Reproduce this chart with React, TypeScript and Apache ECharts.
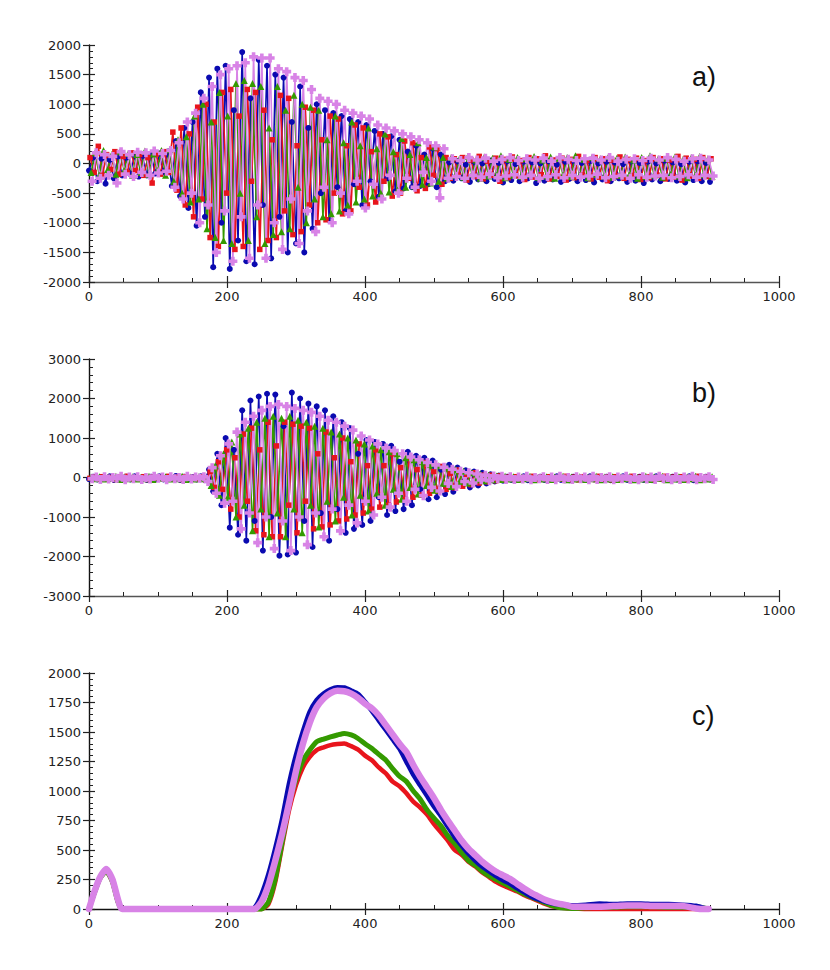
import React, { useEffect, useRef } from "react";
import * as echarts from "echarts";

// ---------- Panel a) samples, x = i * STEP_AB (+ small per-series shift) ----------
const STEP_AB = 6;

const aBlue = [
  -120, 100, -300, 80, -340, 60, -250, 120, -200, 100,
  -180, 140, -220, 130, -200, 150, -170, 170, -150, 200,
  -380, 380, -550, 600, -750, 700, -1050, 1200, -900, 1450, -1750,
  1600, -1000, 1650, -1780, 900, -1300, 1880, -1650, 1100, -1700,
  1750, -700, 1650, -1600, 1500, -900, 1450, -1500, 700, -1350,
  1300, -1500, 600, -1100, 1000, -500, 900, -950, 850, -400,
  800, -800, 750, -350, 700, -700, 650, -300, 550, -560,
  500, -250, 460, -470, 400, -420, 200, -400, 300, -380,
  150, -350, 250, -400, 150, -300,
  20, -290, 40, -250, -20, -310, 30, -270, 0, -300,
  50, -260, 10, -320, 40, -280, -10, -300, 30, -250,
  20, -330, 0, -290, 40, -270, -20, -310, 30, -260,
  50, -300, 10, -280, 40, -320, 0, -270, 30, -300,
  20, -250, -10, -310, 40, -290, 10, -330, 30, -270,
  0, -300, 50, -260, 20, -290, -10, -320, 30, -280,
  40, -300, 10, -310,
];

const aRed = [
  100, -150, 290, -200, 150, -100, 200, -180, 120, -150,
  180, -120, 150, -200, 100, -330, 160, -180, 200, -150,
  530, -450, 600, -700, 500, -900, 950, -600, 1000, -1250, 700,
  -1400, 1200, -500, 1250, -1450, 800, -1400, 1250, -300, 1200,
  -1450, 900, -1300, 400, -1250, 1150, -800, 1100, -1200, 300,
  -1150, 950, -700, 900, -1000, 400, -950, 800, -500, 750,
  -850, 300, -800, 650, -400, 600, -700, 200, -650, 500,
  -300, 450, -550, 150, -500, 380, -250, 350, -460, 100,
  -420, 280, -200, 250, -350, 100,
  -250, 80, -200, 100, -280, 60, -220, 120, -260, 40,
  -200, 90, -300, 70, -240, 110, -210, 50, -270, 100,
  -230, 80, -190, 130, -260, 60, -220, 90, -280, 70,
  -240, 120, -200, 50, -260, 100, -230, 80, -290, 60,
  -210, 110, -250, 70, -220, 90, -270, 50, -240, 100,
  -200, 80, -260, 60, -230, 120, -280, 90, -210, 70,
  -250, 100, -220, 80,
];

const aGreen = [
  -150, 180, -200, 220, -100, 150, -180, 200, -120, 170,
  -200, 150, -150, 210, -180, 160, -120, 220, -200, 230,
  -300, 400, -500, 450, -650, 800, -600, 1000, -1100, 700, -1250,
  1200, -1300, 800, -1350, 1350, -500, 1400, -1300, 1350, -900,
  1300, -1350, 600, -1200, 1300, -1150, 900, -1100, 1150, -400,
  1000, -1000, 950, -600, 900, -900, 400, -850, 800, -800,
  350, -700, 700, -650, 300, -600, 600, -550, 250, -500,
  500, -480, 200, -450, 420, -400, 150, -380, 350, -350,
  100, -330, 280, -300, 100, -250,
  100, -200, 80, -230, 120, -180, 60, -250, 110, -210,
  90, -190, 130, -240, 70, -200, 100, -220, 80, -180,
  120, -230, 60, -210, 110, -250, 90, -190, 100, -220,
  130, -200, 70, -240, 100, -180, 80, -210, 120, -230,
  90, -200, 110, -190, 60, -250, 100, -220, 130, -200,
  80, -230, 90, -180, 110, -210, 70, -240, 100, -200,
  120, -190, 80, -220,
];

const aPink = [
  -300, 180, -250, 150, -200, 120, -330, 200, -180, 150,
  -220, 190, -150, 180, -200, 210, -160, 170, -130, 220,
  -400, 350, -600, 700, -500, 850, -1000, 1100, -700, 1300, -1500,
  1500, -800, 1600, -1650, 1650, -900, 1700, -1600, 1800, -700,
  1780, -1600, 1780, -1000, 1600, -1450, 1550, -600, 1450, -1350,
  1400, -800, 1250, -1150, 1100, -400, 1050, -1000, 1000, -500,
  900, -850, 850, -300, 800, -750, 750, -350, 650, -600,
  600, -200, 550, -500, 500, -250, 450, -400, 400, -150,
  350, -300, 300, -580, 250, -250,
  80, -220, 50, -250, 100, -200, 60, -230, 90, -180,
  40, -240, 70, -210, 100, -190, 50, -230, 80, -200,
  60, -250, 90, -220, 40, -190, 100, -240, 70, -200,
  50, -230, 80, -210, 90, -180, 60, -240, 100, -220,
  40, -200, 70, -250, 80, -190, 50, -230, 90, -210,
  60, -200, 100, -240, 70, -220, 40, -190, 80, -230,
  90, -200, 60, -210,
];

// ---------- Panel b) samples, x = i * STEP_AB ----------
const bBlue = [
  -40, 20, -50, 10, -30, 30, -60, 0, -40, 20,
  -50, 30, -30, 10, -60, 20, -40, 30, -50, 0,
  -30, 40, -60, 20, -40, 10, -50, 30, -70,
  200, -350, 600, -700, 1000, -1270, 700, -1450, 1700, -1600,
  1950, -1100, 2050, -1850, 2120, -1000, 2100, -1980, 1300, -1950,
  2150, -1900, 2000, -1100, 1870, -1760, 1800, -900, 1700, -1600,
  1550, -800, 1400, -1400, 1250, -1300, 600, -1200, 950, -1100,
  900, -500, 850, -950, 800, -850, 400, -800, 650, -700,
  550, -300, 500, -550, 430, -500, 200, -420, 320, -360,
  250, -150, 180, -250, 150, -200, 120, -150, 80, -100,
  50, -80,
  20, -60, 10, -50, 30, -70, 0, -40, 20, -60,
  10, -50, 30, -60, 0, -70, 20, -40, 10, -60,
  30, -50, 0, -60, 20, -70, 10, -40, 30, -60,
  0, -50, 20, -60, 10, -70, 30, -40, 0, -60,
  20, -50, 10, -60, 30, -70, 0, -40, 20, -50,
];

const bRed = [
  -20, 10, -40, 20, -30, 0, -50, 10, -20, 30,
  -40, 0, -30, 20, -50, 10, -20, 0, -40, 30,
  -30, 10, -50, 20, -20, 0, -40, 20, -60,
  150, -250, 400, -300, 700, -800, 500, -1000, 1100, -600,
  1250, -1350, 700, -1450, 1400, -1500, 800, -1500, 1400, -700,
  1350, -1400, 1300, -600, 1250, -1300, 600, -1250, 1150, -1200,
  500, -1100, 1000, -1050, 400, -950, 850, -900, 300, -800,
  700, -750, 300, -700, 600, -620, 250, -560, 480, -500,
  200, -450, 380, -400, 150, -350, 280, -300, 100, -260,
  190, -220, 80, -180, 120, -140, 60, -110, 60, -80,
  40, -60,
  10, -40, 20, -50, 0, -30, 30, -60, 10, -40,
  20, -50, 0, -40, 30, -50, 10, -60, 20, -30,
  0, -50, 30, -40, 10, -60, 20, -50, 0, -40,
  30, -50, 10, -30, 20, -60, 0, -40, 30, -50,
  10, -40, 20, -60, 0, -30, 30, -50, 10, -40,
];

const bGreen = [
  10, -30, 20, -40, 0, -20, 30, -50, 10, -30,
  20, -40, 0, -30, 30, -50, 10, -20, 20, -40,
  0, -30, 30, -50, 10, -40, 20, -30, -50,
  -200, 300, -450, 600, -500, 900, -1000, 1100, -700, 1250,
  -1350, 1400, -800, 1500, -1500, 1550, -900, 1500, -1500, 1550,
  -800, 1450, -1400, 1400, -700, 1300, -1250, 1250, -600, 1150,
  -1100, 1100, -500, 1000, -950, 950, -450, 850, -850, 800,
  -400, 700, -700, 650, -300, 600, -550, 500, -250, 450,
  -420, 400, -200, 340, -320, 300, -150, 250, -230, 200,
  -100, 160, -140, 120, -60, 90, -80, 60, -60, 40,
  -50, 30,
  -40, 20, -50, 10, -30, 30, -60, 0, -40, 20,
  -50, 10, -20, 30, -60, 10, -40, 20, -50, 0,
  -30, 30, -60, 10, -40, 20, -50, 10, -30, 20,
  -60, 0, -40, 30, -50, 10, -20, 30, -60, 0,
  -40, 20, -50, 10, -30, 30, -60, 0, -40, 20,
];

const bPink = [
  -30, 10, -50, 20, -40, 0, -20, 30, -60, 10,
  -30, 20, -50, 0, -40, 30, -20, 10, -60, 20,
  -30, 0, -50, 30, -40, 10, -20, 20, -100,
  250, -400, 550, -650, 850, -600, 1150, -1300, 1400, -900,
  1550, -1650, 1700, -1000, 1800, -1800, 1850, -1100, 1800, -1850,
  1750, -1000, 1700, -1700, 1650, -900, 1550, -1500, 1450, -800,
  1400, -1350, 1300, -700, 1200, -1150, 1050, -600, 950, -950,
  850, -500, 750, -750, 680, -400, 600, -600, 520, -300,
  450, -460, 380, -250, 320, -340, 260, -150, 210, -230,
  160, -100, 120, -140, 90, -60, 60, -80, 40, -30,
  30, -50,
  20, -50, 10, -40, 30, -60, 0, -30, 20, -50,
  10, -60, 30, -40, 0, -50, 20, -30, 10, -60,
  30, -50, 0, -40, 20, -60, 10, -30, 30, -50,
  0, -60, 20, -40, 10, -50, 30, -30, 0, -60,
  20, -50, 10, -40, 30, -60, 0, -30, 20, -50,
];

// ---------- Panel c) curves ----------
const cX = [
  0, 8, 16, 25, 34, 42, 48, 100, 150, 200, 230,
  240, 250, 260, 270, 280, 290, 300, 310, 320, 330,
  340, 350, 360, 370, 380, 390, 400, 410, 420, 430,
  440, 450, 460, 470, 480, 490, 500, 510, 520, 530,
  540, 550, 560, 570, 580, 590, 600, 610, 620, 630,
  640, 650, 660, 670, 680, 690, 700,
  720, 740, 760, 780, 800, 820, 840, 860, 880, 890, 898,
];
const cBlue = [
  0, 150, 270, 340, 250, 80, 0, 0, 0, 0, 0,
  10, 120, 290, 510, 760, 1060, 1300, 1500, 1670, 1770,
  1825, 1860, 1878, 1875, 1850, 1820, 1755, 1680, 1600, 1520,
  1440, 1360, 1250, 1140, 1050, 960, 870, 790, 700, 610,
  540, 470, 410, 360, 320, 280, 245, 215, 180, 145,
  110, 85, 65, 50, 40, 34, 30,
  35, 45, 40, 45, 45, 40, 40, 35, 25, 10, 0,
];
const cRed = [
  0, 140, 260, 320, 230, 60, 0, 0, 0, 0, 0,
  0, 0, 40, 230, 540, 840, 1050, 1200, 1290, 1347,
  1370, 1389, 1398, 1403, 1380, 1350, 1300, 1260, 1200, 1150,
  1080, 1040, 980, 910, 860, 800, 720, 650, 580, 500,
  460, 400, 360, 310, 270, 230, 200, 175, 150, 120,
  95, 70, 45, 25, 15, 8, 5,
  0, 0, 0, 0, 0, 0, 0, 0, 0, 0, 0,
];
const cGreen = [
  0, 140, 260, 320, 230, 60, 0, 0, 0, 0, 0,
  0, 0, 60, 260, 570, 890, 1100, 1255, 1347, 1417,
  1440, 1459, 1475, 1488, 1475, 1445, 1400, 1360, 1310, 1262,
  1190, 1125, 1080, 1000, 930, 840, 770, 705, 620, 555,
  480, 410, 370, 320, 280, 250, 220, 190, 160, 130,
  105, 80, 55, 30, 15, 8, 5,
  10, 15, 15, 20, 20, 20, 15, 15, 20, 10, 0,
];
const cPink = [
  0, 150, 270, 340, 250, 80, 0, 0, 0, 0, 0,
  0, 60, 200, 410, 640, 900, 1170, 1400, 1580, 1710,
  1784, 1830, 1849, 1845, 1825, 1790, 1740, 1700, 1640, 1560,
  1480, 1400, 1330, 1220, 1120, 1030, 940, 840, 750, 665,
  580, 510, 455, 400, 355, 315, 285, 255, 215, 175,
  140, 110, 80, 60, 45, 35, 20,
  20, 20, 25, 30, 30, 25, 25, 25, 5, 0, 0,
];

const PANEL_LABELS = ["a)", "b)", "c)"];
const X_RANGE = { min: 0, max: 1000, interval: 200 };
const Y_RANGES = [
  { min: -2000, max: 2000, interval: 500, minor: 5 },
  { min: -3000, max: 3000, interval: 1000, minor: 5 },
  { min: 0, max: 2000, interval: 250, minor: 5 },
];

const COL = { blue: "#0a0ab0", red: "#e8141c", green: "#349a00", pink: "#d883e6" };
const PLUS = "path://M3,0L7,0L7,3L10,3L10,7L7,7L7,10L3,10L3,7L0,7L0,3L3,3Z";

const GRIDS = [
  { left: 89, top: 45, width: 690, height: 237 },
  { left: 89, top: 359, width: 690, height: 237 },
  { left: 89, top: 673, width: 690, height: 236 },
];
const LABEL_Y = [77, 393, 716];

const FONT = "DejaVu Sans";

function App() {
  const ref = useRef<HTMLDivElement>(null);

  useEffect(() => {
    document.body.style.margin = "0";
    if (!ref.current) return;
    const chart = echarts.init(ref.current, null, { renderer: "svg" });

    const xAxes: any[] = [];
    const yAxes: any[] = [];
    GRIDS.forEach((_, g) => {
      [true, false].forEach((primary) => {
        xAxes.push({
          type: "value",
          gridIndex: g,
          position: "bottom",
          min: X_RANGE.min,
          max: X_RANGE.max,
          interval: X_RANGE.interval,
          axisLine: { show: primary, onZero: false, lineStyle: { color: g === 2 ? "#111" : "#555", width: 1.4 } },
          axisTick: { show: true, inside: !primary, length: 6, lineStyle: { color: "#222", width: 1.2 } },
          minorTick: { show: !primary, splitNumber: 4, length: 4, lineStyle: { color: "#222", width: 1 } },
          axisLabel: {
            show: primary,
            margin: 8,
            fontFamily: FONT,
            fontSize: 13,
            color: "#222",
            formatter: (v: number) => String(v),
          },
          splitLine: { show: false },
          minorSplitLine: { show: false },
        });
        const yr = Y_RANGES[g];
        yAxes.push({
          type: "value",
          gridIndex: g,
          position: "left",
          min: yr.min,
          max: yr.max,
          interval: yr.interval,
          axisLine: { show: primary, onZero: false, lineStyle: { color: "#111", width: 1.4 } },
          axisTick: { show: true, inside: !primary, length: 6, lineStyle: { color: "#222", width: 1.2 } },
          minorTick: { show: !primary, splitNumber: yr.minor, length: 4, lineStyle: { color: "#222", width: 1 } },
          axisLabel: {
            show: primary,
            margin: 8,
            fontFamily: FONT,
            fontSize: 13,
            color: "#222",
            formatter: (v: number) => String(v),
          },
          splitLine: { show: false },
          minorSplitLine: { show: false },
        });
      });
    });

    const oscDefs = [
      { name: "blue", color: COL.blue, symbol: "circle", size: 6, shift: 0 },
      { name: "red", color: COL.red, symbol: "rect", size: 5.5, shift: 1.5 },
      { name: "green", color: COL.green, symbol: "triangle", size: 7, shift: 3 },
      { name: "pink", color: COL.pink, symbol: PLUS, size: 9, shift: 4.5 },
    ];
    const pts = (vals: number[], shift: number) => vals.map((v, i) => [i * STEP_AB + shift, v]);
    const ptsC = (vals: number[]) => vals.map((v, i) => [cX[i], v]);

    const aData = [aBlue, aRed, aGreen, aPink];
    const bData = [bBlue, bRed, bGreen, bPink];

    const series: any[] = [];
    [aData, bData].forEach((set, g) => {
      set.forEach((vals, k) => {
        const d = oscDefs[k];
        series.push({
          type: "line",
          name: d.name + "-" + g,
          xAxisIndex: g * 2,
          yAxisIndex: g * 2,
          data: pts(vals, d.shift),
          symbol: d.symbol,
          symbolSize: d.size,
          showSymbol: true,
          lineStyle: { color: d.color, width: 1.6 },
          itemStyle: { color: d.color },
          silent: true,
          clip: true,
        });
      });
    });

    const cDefs = [
      { vals: cRed, color: COL.red, width: 4.5 },
      { vals: cGreen, color: COL.green, width: 5 },
      { vals: cBlue, color: COL.blue, width: 5 },
      { vals: cPink, color: COL.pink, width: 6.5 },
    ];
    cDefs.forEach((d, k) => {
      series.push({
        type: "line",
        name: "c" + k,
        xAxisIndex: 4,
        yAxisIndex: 4,
        data: ptsC(d.vals),
        symbol: "none",
        smooth: 0.2,
        lineStyle: { color: d.color, width: d.width, cap: "round", join: "round" },
        silent: true,
        clip: false,
      });
    });

    chart.setOption({
      animation: false,
      backgroundColor: "#ffffff",
      grid: GRIDS.map((g) => ({ ...g, containLabel: false })),
      xAxis: xAxes,
      yAxis: yAxes,
      series,
      graphic: PANEL_LABELS.map((t, i) => ({
        type: "text",
        x: 692,
        y: LABEL_Y[i],
        style: {
          text: t,
          fontFamily: "Liberation Sans",
          fontSize: 27,
          fill: "#111",
          verticalAlign: "middle",
        },
      })),
    });

    return () => chart.dispose();
  }, []);

  return <div ref={ref} style={{ width: 830, height: 970 }} />;
}

export default App;
